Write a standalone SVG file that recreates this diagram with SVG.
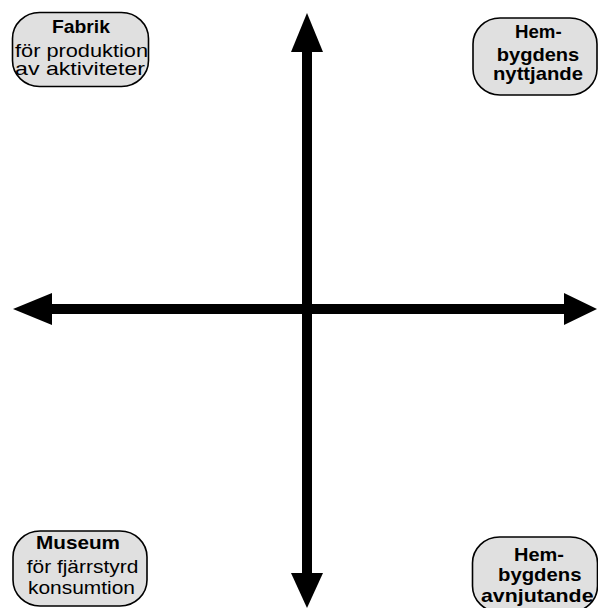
<svg xmlns="http://www.w3.org/2000/svg" width="598" height="608" viewBox="0 0 598 608">
<style>
.box{fill:#e0e0e0;stroke:#000;stroke-width:1.6}
.t{font-family:"Liberation Sans",Arial,sans-serif;font-size:18.5px;fill:#000}
.b{font-weight:bold}
.arrow{fill:#000}
</style>
<rect width="598" height="608" fill="#fff"/>
<g id="connectors">
<rect class="arrow" x="302" y="50" width="10" height="525"/>
<rect class="arrow" x="50" y="304" width="516" height="10"/>
<polygon class="arrow" points="307,13 291,52 323,52"/>
<polygon class="arrow" points="307,608 291,573 323,573"/>
<polygon class="arrow" points="13,309 52,293 52,325"/>
<polygon class="arrow" points="597,309 564,293 564,325"/>
</g>
<g id="fabrik">
<rect class="box" x="12.5" y="12.5" width="136" height="74" rx="27" ry="26"/>
<text class="t b" x="52" y="33" textLength="58" lengthAdjust="spacingAndGlyphs">Fabrik</text>
<text class="t" x="15" y="56.5" textLength="133" lengthAdjust="spacingAndGlyphs">för produktion</text>
<text class="t" x="15" y="75" textLength="130" lengthAdjust="spacingAndGlyphs">av aktiviteter</text>
</g>
<g id="nyttjande">
<rect class="box" x="473" y="18" width="124" height="77" rx="27" ry="26"/>
<text class="t b" x="515" y="38.3" textLength="46.7" lengthAdjust="spacingAndGlyphs">Hem-</text>
<text class="t b" x="496.7" y="60.5" textLength="82.6" lengthAdjust="spacingAndGlyphs">bygdens</text>
<text class="t b" x="493" y="80" textLength="90" lengthAdjust="spacingAndGlyphs">nyttjande</text>
</g>
<g id="museum">
<rect class="box" x="13" y="531" width="134" height="75" rx="27" ry="26"/>
<text class="t b" x="36" y="549" textLength="84" lengthAdjust="spacingAndGlyphs">Museum</text>
<text class="t" x="26.7" y="573" textLength="111.6" lengthAdjust="spacingAndGlyphs">för fjärrstyrd</text>
<text class="t" x="28" y="594" textLength="107" lengthAdjust="spacingAndGlyphs">konsumtion</text>
</g>
<g id="avnjutande">
<rect class="box" x="472.5" y="537" width="125" height="75" rx="27" ry="26"/>
<text class="t b" x="514" y="560.5" textLength="50" lengthAdjust="spacingAndGlyphs">Hem-</text>
<text class="t b" x="498" y="580.5" textLength="83.5" lengthAdjust="spacingAndGlyphs">bygdens</text>
<text class="t b" x="481" y="601.5" textLength="112.5" lengthAdjust="spacingAndGlyphs">avnjutande</text>
</g>
</svg>
